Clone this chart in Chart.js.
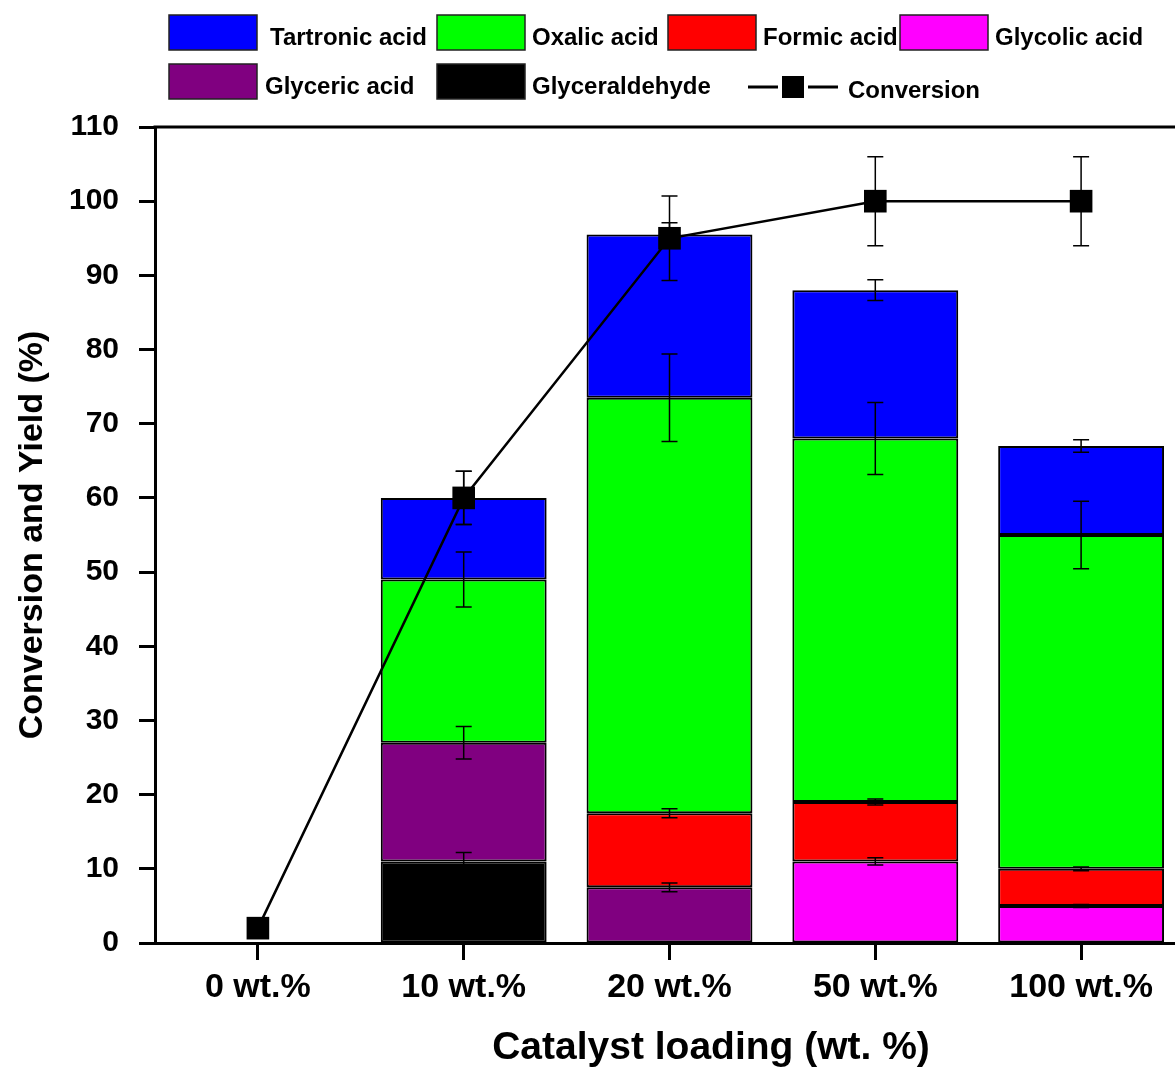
<!DOCTYPE html>
<html>
<head>
<meta charset="utf-8">
<script src="https://cdn.jsdelivr.net/npm/chart.js@4.4.1/dist/chart.umd.min.js"></script>
<style>
  html, body { margin: 0; padding: 0; background: #fff; overflow: hidden; }
  canvas { display: block; }
</style>
</head>
<body>
<canvas id="chart" width="1200" height="1068"></canvas>
<script>
const categories = ["0 wt.%", "10 wt.%", "20 wt.%", "50 wt.%", "100 wt.%"];

// stacked yields (%), bottom to top
const glyceraldehyde = [null, 11, null, null, null];
const glycolicAcid = [null, null, null, 11, 5];
const glycericAcid = [null, 16, 7.5, null, null];
const formicAcid = [null, null, 10, 8, 5];
const oxalicAcid = [null, 22, 56, 49, 45];
const tartronicAcid = [null, 11, 22, 20, 12];
const conversion = [2, 60, 95, 100, 100];

// error bar half widths
const glyceraldehydeErr = [0, 1.2, 0, 0, 0];
const glycolicErr = [0, 0, 0, 0.5, 0.2];
const glycericErr = [0, 2.2, 0.6, 0, 0];
const formicErr = [0, 0, 0.6, 0.4, 0.25];
const oxalicErr = [0, 3.7, 5.9, 4.85, 4.55];
const tartronicErr = [0, 3.6, 1.6, 1.4, 0.85];
const conversionErr = [0, 3.6, 5.7, 6, 6];

const yTicks = [0, 10, 20, 30, 40, 50, 60, 70, 80, 90, 100, 110];
const xTitle = "Catalyst loading (wt. %)";

const FONT = '"Liberation Sans", Arial, sans-serif';

function barSet(label, data, errors, color) {
  return {
    type: "bar",
    label: label,
    data: data,
    errors: errors,
    backgroundColor: color,
    borderColor: "#000",
    borderWidth: 2,
    borderSkipped: false,
    barPercentage: 0.806,
    categoryPercentage: 1,
    stack: "yield",
    order: 1,
  };
}

const datasets = [
  barSet("Glyceraldehyde", glyceraldehyde, glyceraldehydeErr, "#000000"),
  barSet("Glycolic acid", glycolicAcid, glycolicErr, "#ff00ff"),
  barSet("Glyceric acid", glycericAcid, glycericErr, "#800080"),
  barSet("Formic acid", formicAcid, formicErr, "#ff0000"),
  barSet("Oxalic acid", oxalicAcid, oxalicErr, "#00ff00"),
  barSet("Tartronic acid", tartronicAcid, tartronicErr, "#0000ff"),
  {
    type: "line",
    label: "Conversion",
    data: conversion,
    errors: conversionErr,
    borderColor: "#000",
    borderWidth: 2.5,
    backgroundColor: "#000",
    pointStyle: "rect",
    pointRadius: 16,
    pointBackgroundColor: "#000",
    pointBorderColor: "#000",
    pointBorderWidth: 0,
    tension: 0,
    stack: "conv",
    order: 0,
  },
];

// legend layout: [label, box x, box y, text x]
const legendRows = [
  ["Tartronic acid", 169, 15, 270],
  ["Oxalic acid", 437, 15, 532],
  ["Formic acid", 668, 15, 763],
  ["Glycolic acid", 900, 15, 995],
  ["Glyceric acid", 169, 64, 265],
  ["Glyceraldehyde", 437, 64, 532],
];

function drawErrorBars(chart) {
  const ctx = chart.ctx;
  const y = chart.scales.y;
  ctx.save();
  ctx.strokeStyle = "#000";
  ctx.lineWidth = 1.5;
  chart.data.datasets.forEach((ds, di) => {
    if (!ds.errors) return;
    const meta = chart.getDatasetMeta(di);
    meta.data.forEach((el, i) => {
      const e = ds.errors[i];
      if (!e || ds.data[i] == null) return;
      const top = y.getValueForPixel(el.y);
      const y1 = y.getPixelForValue(top + e);
      const y2 = y.getPixelForValue(top - e);
      const x = el.x;
      ctx.beginPath();
      ctx.moveTo(x, y1);
      ctx.lineTo(x, y2);
      ctx.moveTo(x - 8, y1);
      ctx.lineTo(x + 8, y1);
      ctx.moveTo(x - 8, y2);
      ctx.lineTo(x + 8, y2);
      ctx.stroke();
    });
  });
  ctx.restore();
}

const extrasPlugin = {
  id: "extras",
  beforeDatasetDraw(chart, args) {
    if (chart.data.datasets[args.index].type === "line") drawErrorBars(chart);
  },
  afterDraw(chart) {
    const ctx = chart.ctx;
    const area = chart.chartArea;
    ctx.save();
    // top frame line
    ctx.strokeStyle = "#000";
    ctx.lineWidth = 3;
    ctx.beginPath();
    ctx.moveTo(area.left - 1.5, area.top);
    ctx.lineTo(area.right, area.top);
    ctx.stroke();

    // x axis title
    ctx.fillStyle = "#000";
    ctx.textAlign = "center";
    ctx.textBaseline = "middle";
    ctx.font = "bold 39px " + FONT;
    ctx.fillText(xTitle, 711, 1048);

    // legend
    ctx.textAlign = "left";
    ctx.font = "bold 24px " + FONT;
    legendRows.forEach(([label, bx, by, tx]) => {
      const ds = chart.data.datasets.find((d) => d.label === label);
      ctx.fillStyle = ds.backgroundColor;
      ctx.fillRect(bx, by, 88, 35);
      ctx.lineWidth = 1.5;
      ctx.strokeStyle = "#222";
      ctx.strokeRect(bx, by, 88, 35);
      ctx.fillStyle = "#000";
      ctx.fillText(label, tx, by + 23);
    });
    // conversion symbol
    ctx.lineWidth = 3;
    ctx.strokeStyle = "#000";
    ctx.beginPath();
    ctx.moveTo(748, 87);
    ctx.lineTo(778, 87);
    ctx.moveTo(808, 87);
    ctx.lineTo(838, 87);
    ctx.stroke();
    ctx.fillRect(782, 76, 22, 22);
    ctx.fillText("Conversion", 848, 91);
    ctx.restore();
  },
};

new Chart(document.getElementById("chart"), {
  data: { labels: categories, datasets: datasets },
  options: {
    responsive: false,
    animation: false,
    events: [],
    layout: { padding: { left: 0, top: 127, right: 15, bottom: 0 } },
    plugins: { legend: { display: false }, tooltip: { enabled: false } },
    scales: {
      x: {
        type: "category",
        stacked: true,
        offset: true,
        grid: {
          offset: false,
          drawOnChartArea: false,
          drawTicks: true,
          tickLength: 17,
          tickWidth: 3,
          tickColor: "#000",
        },
        border: { display: true, color: "#000", width: 3 },
        ticks: {
          color: "#000",
          font: { family: FONT, size: 34, weight: "bold" },
          padding: 7,
          maxRotation: 0,
        },
        title: { display: false },
        afterFit: (s) => { s.height = 125; },
      },
      y: {
        stacked: true,
        min: 0,
        max: 110,
        afterBuildTicks: (s) => { s.ticks = yTicks.map((v) => ({ value: v })); },
        grid: {
          drawOnChartArea: false,
          drawTicks: true,
          tickLength: 16,
          tickWidth: 3,
          tickColor: "#000",
        },
        border: { display: true, color: "#000", width: 3 },
        ticks: {
          color: "#000",
          font: { family: FONT, size: 30, weight: "bold" },
          padding: 20,
        },
        title: {
          display: true,
          text: "Conversion and Yield (%)",
          color: "#000",
          font: { family: FONT, size: 34, weight: "bold" },
          padding: { top: 12, bottom: 0 },
        },
        afterFit: (s) => { s.width = 155; },
      },
    },
  },
  plugins: [extrasPlugin],
});
</script>
</body>
</html>
